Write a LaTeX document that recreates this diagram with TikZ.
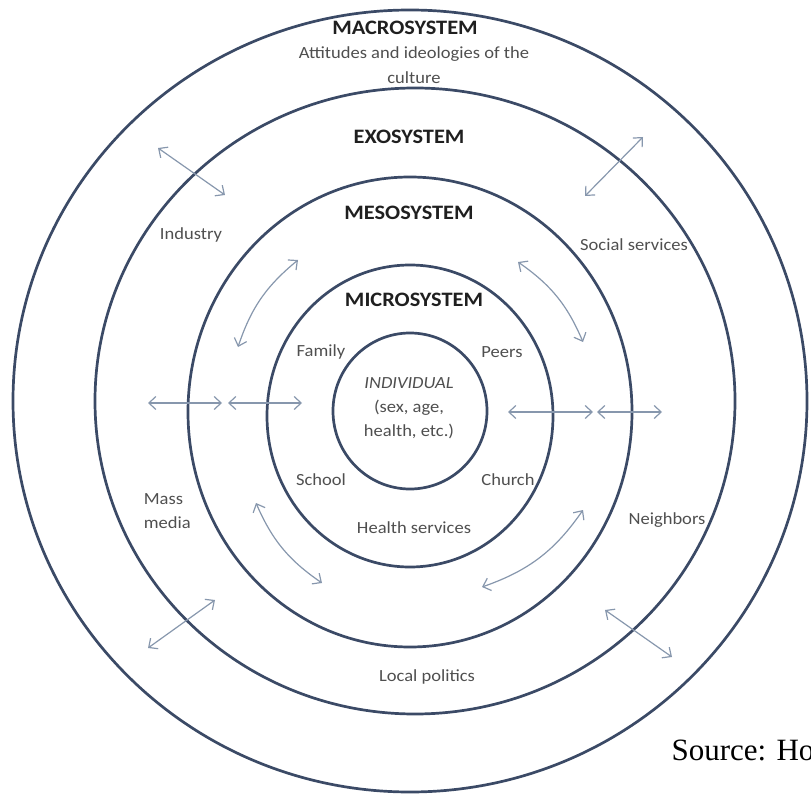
\documentclass[tikz,border=0pt]{standalone}
\usepackage{fontspec}
\setmainfont{Carlito}
\newfontfamily\srcfont{Liberation Serif}
\usetikzlibrary{arrows.meta}
\definecolor{ringcol}{HTML}{3B4A66}
\definecolor{arrcol}{HTML}{8797AD}
\definecolor{labcol}{HTML}{4F4F4F}
\tikzset{
  ring/.style={draw=ringcol, line width=2.7pt},
  title/.style={font=\fontsize{20.5}{22}\selectfont\bfseries, text=black!88, xscale=1.09},
  lab/.style={font=\fontsize{17}{24}\selectfont, text=labcol, align=center, xscale=1.09},
  link/.style={draw=arrcol, line width=1.2pt, {Straight Barb[length=7pt,width=13pt]}-{Straight Barb[length=7pt,width=13pt]}},
}
\begin{document}
\begin{tikzpicture}[x=1pt, y=-1pt, line cap=round]
\useasboundingbox (0,0) rectangle (811,794);
\begin{scope}
\clip (0,0) rectangle (811,794);
% the five systems
\draw[ring] (410,401) ellipse (397 and 391);
\draw[ring] (415,401) ellipse (320 and 313);
\draw[ring] (410,412) ellipse (222 and 235);
\draw[ring] (410,416) ellipse (143 and 151);
\draw[ring] (410,411) ellipse (77 and 78);
% titles
\node[title] (macro) at (405,28) {MACROSYSTEM};
\node[lab, font=\fontsize{17}{25}\selectfont] (culture) at (414,65) {Attitudes and ideologies of the\\culture};
\node[title] (exo) at (409,137) {EXOSYSTEM};
\node[title] (meso) at (409,213) {MESOSYSTEM};
\node[title] (micro) at (414,300) {MICROSYSTEM};
% inner labels
\node[lab] (indiv) at (409,408) {\itshape INDIVIDUAL\\(sex, age,\\health, etc.)};
\node[lab] (family) at (321,352) {Family};
\node[lab] (peers) at (502,352) {Peers};
\node[lab] (school) at (321,480) {School};
\node[lab] (church) at (508,480) {Church};
\node[lab] (health) at (414,528) {Health services};
% exo labels
\node[lab] (industry) at (191,235) {Industry};
\node[lab] (social) at (634,245) {Social services};
\node[lab, align=left, anchor=west] (media) at (140,511) {Mass\\media};
\node[lab] (neighbors) at (667,520) {Neighbors};
\node[lab] (politics) at (427,677) {Local politics};
% curved links in the mesosystem
\draw[link] (298,260) to[bend right=16] (238,347);
\draw[link] (518,262) to[bend left=16] (583,342);
\draw[link] (256,503) to[bend right=16] (322,583);
\draw[link] (583,510) to[bend left=18] (482,587);
% straight links
\draw[link] (148,403) -- (222,403);
\draw[link] (228,403) -- (302,403);
\draw[link] (508,412) -- (593,412);
\draw[link] (597,412) -- (662,412);
\draw[link] (158,148) -- (225,195);
\draw[link] (643,137) -- (585,196);
\draw[link] (148,648) -- (215,600);
\draw[link] (605,610) -- (672,657);
% source box
\fill[white] (652,720) rectangle (811,794);
\node[anchor=west, font=\srcfont\fontsize{31}{34}\selectfont] (source) at (668,750) {Source: Ho};
\end{scope}
\end{tikzpicture}
\end{document}
